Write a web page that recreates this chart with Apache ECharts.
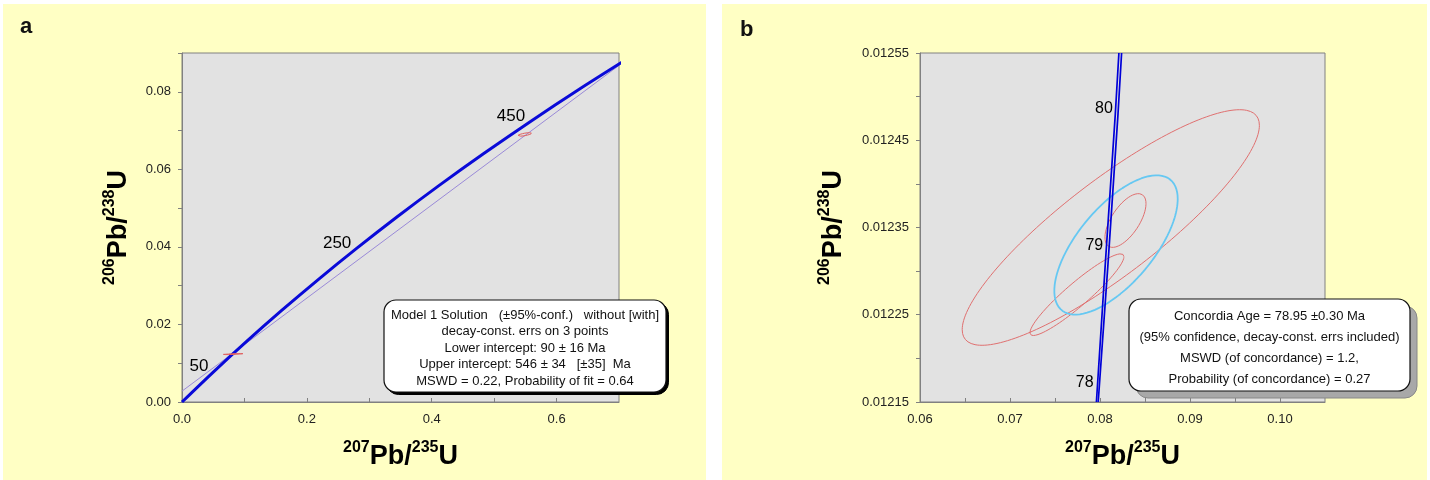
<!DOCTYPE html>
<html><head><meta charset="utf-8">
<script src="https://cdn.jsdelivr.net/npm/echarts@6/dist/echarts.min.js"></script>
<style>html,body{margin:0;padding:0;background:#fff}#c{width:1430px;height:480px}</style>
</head><body><div id="c"></div>
<script>
// ---------- Panel a: concordia curve (ages in Ma) ----------
const concAAges = [0, 50, 100, 150, 200, 250, 300, 350, 400, 450, 500, 550];
const concAX = [0, 0.0505, 0.1035, 0.1592, 0.2177, 0.2792, 0.3437, 0.4115, 0.4828, 0.5577, 0.6363, 0.7189];
const concAY = [0, 0.00779, 0.01563, 0.02354, 0.03151, 0.03954, 0.04764, 0.05580, 0.06402, 0.07230, 0.08065, 0.08906];
const ageLabelsA = [50, 250, 450];
// discordia line (through lower 90 Ma and upper 546 Ma intercepts)
const discordiaX = [0, 0.70];
const discordiaY = [0.0028, 0.0868];

// ---------- Panel b: concordia envelope ----------
const concB1X = [0.0796, 0.0806, 0.0817, 0.0821];
const concB2X = [0.0798, 0.0809, 0.0820, 0.0824];
const concBY  = [0.01215, 0.01231, 0.01248, 0.01255];
const ageLabelsB = [78, 79, 80];
const ageLabelsBX = [0.07985, 0.08091, 0.08198];
const ageLabelsBY = [0.012173, 0.012330, 0.012487];

// ---------- Error ellipses: centre, half-widths, correlation ----------
const ellNames = ['z1', 'z2', 'z3', 'z4'];
const ellCx  = [0.0812, 0.08283, 0.07744, 0.549];
const ellCy  = [0.01235, 0.012358, 0.012273, 0.0690];
const ellSx  = [0.01651, 0.00228, 0.00522, 0.011];
const ellSy  = [0.000135, 0.0000308, 0.0000468, 0.00045];
const ellRho = [0.867, 0.63, 0.93, 0.70];
// concordia-age ellipse (panel b)
const caCx = 0.08178, caCy = 0.01233, caSx = 0.006855, caSy = 0.0000798, caRho = 0.66;

// ---------- Tick labels / texts ----------
const axisTitleX = '{s|207}{m|Pb/}{s|235}{m|U}';
const axisTitleY = '{s|206}{m|Pb/}{s|238}{m|U}';
const boxAText = [
  'Model 1 Solution   (±95%-conf.)   without [with]',
  'decay-const. errs on 3 points',
  'Lower intercept: 90 ± 16 Ma',
  'Upper intercept: 546 ± 34   [±35]  Ma',
  'MSWD = 0.22, Probability of fit = 0.64'
];
const boxBText = [
  'Concordia Age = 78.95 ±0.30 Ma',
  '(95% confidence, decay-const. errs included)',
  'MSWD (of concordance) = 1.2,',
  'Probability (of concordance) = 0.27'
];

const FF = '"Liberation Sans", Arial, sans-serif';

function ellipse(cx, cy, sx, sy, rho) {
  const pts = [];
  const k = Math.sqrt(1 - rho * rho);
  for (let i = 0; i <= 180; i++) {
    const t = i / 180 * 2 * Math.PI;
    pts.push([cx + sx * Math.cos(t), cy + sy * (rho * Math.cos(t) + k * Math.sin(t))]);
  }
  return pts;
}
const zip = (xs, ys) => xs.map((x, i) => [x, ys[i]]);

const chart = echarts.init(document.getElementById('c'), null, {renderer: 'canvas'});

const nameRich = {
  s: {fontSize: 16, fontWeight: 'bold', fontFamily: FF, color: '#000', verticalAlign: 'top', lineHeight: 15},
  m: {fontSize: 27, fontWeight: 'bold', fontFamily: FF, color: '#000', verticalAlign: 'bottom', lineHeight: 30}
};

function xAx(grid, min, max, interval, fmt, gap) {
  return {
    type: 'value', gridIndex: grid, min, max, interval,
    name: axisTitleX, nameLocation: 'middle', nameGap: gap,
    nameTextStyle: {rich: nameRich},
    axisLine: {show: true, onZero: false, lineStyle: {color: '#808080', width: 1}},
    axisTick: {show: true, inside: true, length: 4, lineStyle: {color: '#808080'}},
    axisLabel: {formatter: fmt, fontSize: 13, color: '#222', fontFamily: FF, margin: 11, showMaxLabel: false},
    splitLine: {show: false}
  };
}
function yAx(grid, min, max, interval, fmt, gap) {
  return {
    type: 'value', gridIndex: grid, min, max, interval,
    name: axisTitleY, nameLocation: 'middle', nameGap: gap,
    nameTextStyle: {rich: nameRich},
    axisLine: {show: true, onZero: false, lineStyle: {color: '#808080', width: 1}},
    axisTick: {show: true, inside: false, length: 4, lineStyle: {color: '#808080'}},
    axisLabel: {formatter: fmt, fontSize: 13, color: '#222', fontFamily: FF, margin: 11, showMaxLabel: true},
    splitLine: {show: false}
  };
}

const hidden = {color: 'rgba(0,0,0,0)'};
const ageLabelStyle = (size, dist, off) => ({show: true, position: 'left', distance: dist, offset: off,
  formatter: p => String(p.value[2]), fontSize: size, color: '#000', opacity: 1,
  textBorderWidth: 0, fontFamily: FF});
const series = [];
// panel a
series.push({type: 'line', xAxisIndex: 0, yAxisIndex: 0, data: zip(discordiaX, discordiaY),
  showSymbol: false, symbol: 'none', lineStyle: {color: '#9a8ad8', width: 1}, z: 2, silent: true});
series.push({type: 'line', xAxisIndex: 0, yAxisIndex: 0, data: zip(concAX, concAY), smooth: 0.3,
  showSymbol: false, symbol: 'none', lineStyle: {color: '#0a0ad8', width: 3}, z: 3, silent: true});
ellNames.forEach((n, i) => {
  series.push({type: 'line', name: n, xAxisIndex: 0, yAxisIndex: 0,
    data: ellipse(ellCx[i], ellCy[i], ellSx[i], ellSy[i], ellRho[i]),
    showSymbol: false, symbol: 'none', lineStyle: {color: '#e06060', width: 1}, z: 4, silent: true});
});
series.push({type: 'scatter', xAxisIndex: 0, yAxisIndex: 0,
  data: ageLabelsA.map(a => { const i = concAAges.indexOf(a); return [concAX[i], concAY[i], a]; }),
  symbol: 'circle', symbolSize: 2, itemStyle: hidden, z: 5, silent: true,
  label: ageLabelStyle(17, 4, [0, -5])});
// panel b
[0, 1, 2].forEach(i => {
  series.push({type: 'line', name: ellNames[i], xAxisIndex: 1, yAxisIndex: 1,
    data: ellipse(ellCx[i], ellCy[i], ellSx[i], ellSy[i], ellRho[i]),
    showSymbol: false, symbol: 'none', lineStyle: {color: '#e07070', width: 1}, z: 2, silent: true});
});
series.push({type: 'line', xAxisIndex: 1, yAxisIndex: 1, data: ellipse(caCx, caCy, caSx, caSy, caRho),
  showSymbol: false, symbol: 'none', lineStyle: {color: '#66c8f2', width: 1.8}, z: 3, silent: true});
[concB1X, concB2X].forEach(xs => {
  series.push({type: 'line', xAxisIndex: 1, yAxisIndex: 1, data: zip(xs, concBY),
    showSymbol: false, symbol: 'none', lineStyle: {color: '#0000d8', width: 1.7}, z: 4, silent: true});
});
series.push({type: 'scatter', xAxisIndex: 1, yAxisIndex: 1,
  data: ageLabelsB.map((a, i) => [ageLabelsBX[i], ageLabelsBY[i], a]),
  symbol: 'circle', symbolSize: 2, itemStyle: hidden, z: 5, silent: true,
  label: ageLabelStyle(16, 4, [0, 1])});

function textBox(x, y, w, h, lines, lineH, firstY, shadow) {
  const els = [];
  els.push({type: 'rect', z: 100, shape: {x: x + shadow.dx, y: y + shadow.dy, width: w, height: h, r: 12},
    style: {fill: shadow.color, stroke: shadow.stroke, lineWidth: 1}});
  els.push({type: 'rect', z: 101, shape: {x, y, width: w, height: h, r: 12},
    style: {fill: '#ffffff', stroke: '#111', lineWidth: 1.2}});
  lines.forEach((t, i) => {
    els.push({type: 'text', z: 102, style: {text: t, x: x + w / 2, y: firstY + i * lineH,
      textAlign: 'center', textVerticalAlign: 'middle', verticalAlign: 'middle',
      fill: '#111', font: '13px ' + FF}});
  });
  return els;
}

const graphics = [
  {type: 'rect', z: -100, shape: {x: 3, y: 4, width: 703, height: 476}, style: {fill: '#ffffc4'}},
  {type: 'rect', z: -100, shape: {x: 722, y: 4, width: 705, height: 476}, style: {fill: '#ffffc4'}},
  {type: 'text', z: 50, style: {text: 'a', x: 20, y: 27, textVerticalAlign: 'middle', verticalAlign: 'middle',
    fill: '#111', font: 'bold 22px ' + FF}},
  {type: 'text', z: 50, style: {text: 'b', x: 740, y: 30, textVerticalAlign: 'middle', verticalAlign: 'middle',
    fill: '#111', font: 'bold 22px ' + FF}},
  ...textBox(384, 300, 282, 92, boxAText, 16.5, 315, {dx: 2.5, dy: 2.5, color: '#000', stroke: '#000'}),
  ...textBox(1129, 299, 281, 92, boxBText, 21, 316, {dx: 7, dy: 7, color: '#a8a8a8', stroke: '#888'})
];

chart.setOption({
  backgroundColor: '#ffffff',
  animation: false,
  grid: [
    {left: 182, top: 53, width: 437, height: 349, show: true, backgroundColor: '#e2e2e2', borderColor: '#808080', borderWidth: 1},
    {left: 920, top: 53, width: 405, height: 349, show: true, backgroundColor: '#e2e2e2', borderColor: '#808080', borderWidth: 1}
  ],
  xAxis: [
    xAx(0, 0, 0.7, 0.1, v => (Math.round(v * 10) % 2 === 0 ? v.toFixed(1) : ''), 38),
    xAx(1, 0.06, 0.105, 0.005, v => (Math.round(v * 1000) % 10 === 0 ? v.toFixed(2) : ''), 38)
  ],
  yAxis: [
    yAx(0, 0, 0.09, 0.01, v => (Math.round(v * 100) % 2 === 0 ? v.toFixed(2) : ''), 50),
    yAx(1, 0.01215, 0.01255, 0.00005, v => (Math.round((v - 0.01215) / 0.00005) % 2 === 0 ? v.toFixed(5) : ''), 73)
  ],
  series,
  graphic: {elements: graphics}
});
</script></body></html>
